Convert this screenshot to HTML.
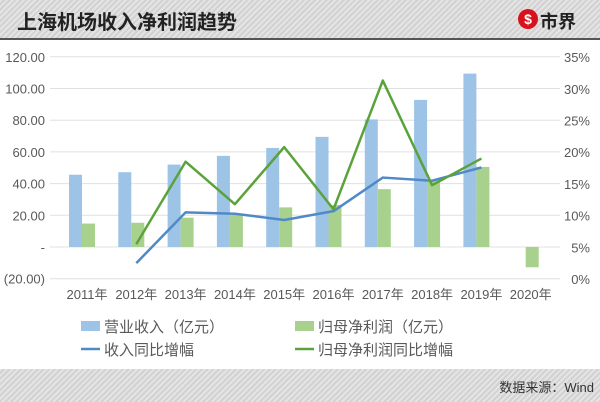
<!DOCTYPE html>
<html><head><meta charset="utf-8"><style>
body{margin:0;width:600px;height:402px;overflow:hidden;background:#fff;font-family:"Liberation Sans","Noto Sans CJK SC",sans-serif;}
.stripe{background:repeating-linear-gradient(135deg,#e4e4e4 0 2px,#d2d2d2 2px 4px);}
</style></head><body>
<div class="stripe" style="position:absolute;left:0;top:0;width:600px;height:38px;border-bottom:2px solid #555;">
<div style="position:absolute;left:17px;top:6px;font-size:20px;font-weight:bold;color:#222;">上海机场收入净利润趋势</div>
<div style="position:absolute;left:518px;top:9px;width:20px;height:20px;border-radius:50%;background:#d8121c;color:#fff;font-size:14px;font-weight:bold;text-align:center;line-height:20px;">$</div>
<div style="position:absolute;left:540px;top:8px;font-size:18px;font-weight:bold;color:#222;">市界</div>
</div>
<svg id="c" width="600" height="402" style="position:absolute;left:0;top:0" font-family="Liberation Sans, Noto Sans CJK SC, sans-serif"></svg>
<div class="stripe" style="position:absolute;left:0;top:369px;width:600px;height:33px;">
<div style="position:absolute;right:6px;top:8px;font-size:13px;color:#333;">数据来源：Wind</div>
</div>
<script>
const years=["2011年","2012年","2013年","2014年","2015年","2016年","2017年","2018年","2019年","2020年"];
const revenue=[45.6,47.2,52,57.5,62.5,69.5,80.5,92.8,109.4,null];
const profit=[14.8,15.3,18.5,20.3,25,26.5,36.5,42.5,50.5,-12.8];
const revGrowth=[null,2.5,10.5,10.3,9.3,10.7,16,15.5,17.6,null];
const profitGrowth=[null,5.5,18.5,11.8,20.8,11,31.3,14.8,19,null];
const leftTicks=[120,100,80,60,40,20,0,-20];
const leftLabels=["120.00","100.00","80.00","60.00","40.00","20.00","-","(20.00)"];
const rightTicks=[35,30,25,20,15,10,5,0];
const NS="http://www.w3.org/2000/svg",svg=document.getElementById('c');
const yL=v=>247-(v)*31.7/20, yR=v=>279-v*31.7/5, xC=i=>87+i*49.3;
function mk(t,a,p){const e=document.createElementNS(NS,t);for(const k in a)e.setAttribute(k,a[k]);(p||svg).appendChild(e);return e;}
leftTicks.forEach((v,i)=>{
 const g=mk('line',{x1:50,x2:560,y1:yL(v),y2:yL(v),stroke:'#e0e0e0','stroke-width':1});
 
 
 const t=mk('text',{x:45,y:yL(v)+5,'text-anchor':'end','font-size':13,fill:'#595959'});t.textContent=leftLabels[i];
 
 
});
rightTicks.forEach(v=>{
 const t=mk('text',{x:590,y:yR(v)+5,'text-anchor':'end','font-size':13,fill:'#595959'});t.textContent=v+'%';
 
 
});
years.forEach((y,i)=>{
 const t=mk('text',{x:xC(i),y:299,'text-anchor':'middle','font-size':13,fill:'#595959'});t.textContent=y;
 
 
 if(revenue[i]!=null){const r=mk('rect',{x:xC(i)-18,y:yL(revenue[i]),width:13,height:yL(0)-yL(revenue[i]),fill:'#9dc3e6'});
 
 }
 const v=profit[i];const b=mk('rect',{x:xC(i)-5,y:Math.min(yL(v),yL(0)),width:13,height:Math.abs(yL(0)-yL(v)),fill:'#a9d18e'});
 
 
});
function line(arr,col,name){let p=[];arr.forEach((v,i)=>{if(v!=null)p.push(xC(i)+','+yR(v));});
 const l=mk('polyline',{points:p.join(' '),fill:'none',stroke:col,'stroke-width':2.5,'stroke-linejoin':'round'});
 
 }
line(revGrowth,'#4f8ac6','line-revenue-growth');
line(profitGrowth,'#5aa33a','line-profit-growth');
const leg=[[81,326,'rect','#9dc3e6','营业收入（亿元）','legend-revenue'],[295,326,'rect','#a9d18e','归母净利润（亿元）','legend-profit'],[81,349,'line','#4f8ac6','收入同比增幅','legend-revenue-growth'],[295,349,'line','#5aa33a','归母净利润同比增幅','legend-profit-growth']];
leg.forEach(d=>{
 if(d[2]=='rect')mk('rect',{x:d[0],y:d[1]-5,width:19,height:10,fill:d[3]});
 else mk('line',{x1:d[0],x2:d[0]+19,y1:d[1],y2:d[1],stroke:d[3],'stroke-width':2.5});
 const t=mk('text',{x:d[0]+23,y:d[1]+6,'font-size':15,fill:'#595959'});t.textContent=d[4];
 
 
});
</script>
</body></html>
